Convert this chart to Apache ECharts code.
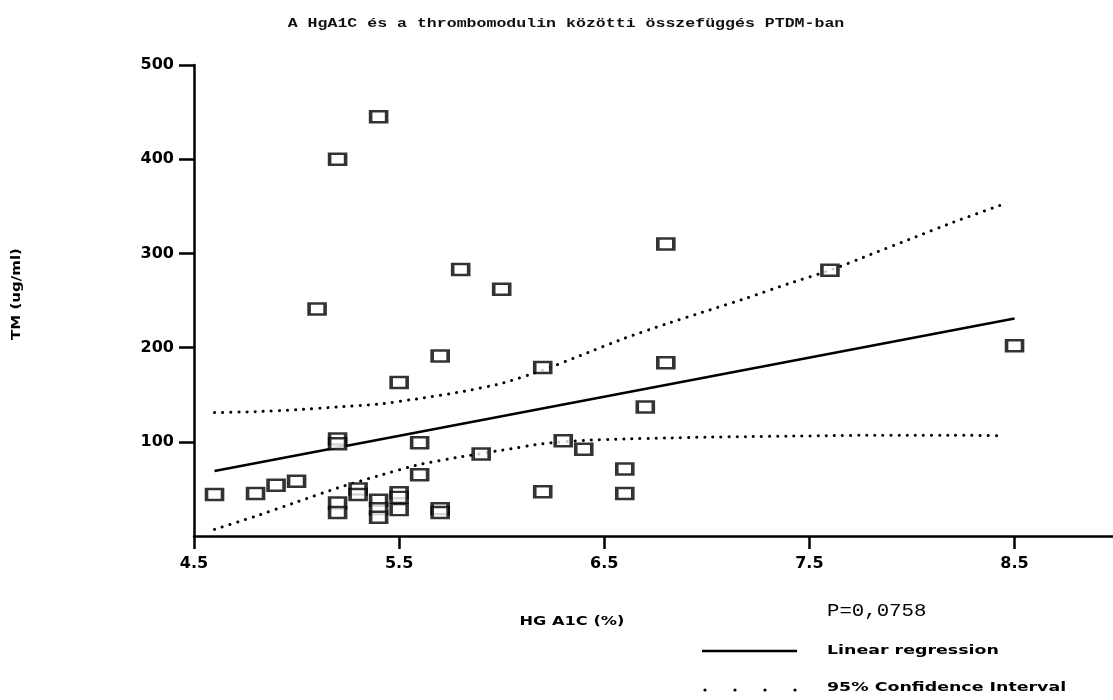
<!DOCTYPE html>
<html>
<head>
<meta charset="utf-8">
<script src="https://cdn.jsdelivr.net/npm/echarts@6/dist/echarts.min.js"></script>
<style>
html,body{margin:0;padding:0;background:#fff;}
#chart{width:1113px;height:700px;}
</style>
</head>
<body>
<div id="chart"></div>
<script>
// ---- data ----
const hba1c = [4.6,4.8,4.9,5.0,5.1,5.2,5.2,5.2,5.2,5.2,5.3,5.3,5.4,5.4,5.4,5.4,5.5,5.5,5.5,5.5,5.6,5.6,5.7,5.7,5.7,5.8,5.9,6.0,6.2,6.2,6.3,6.4,6.6,6.6,6.7,6.8,6.8,7.6,8.5];
const tmValues = [44,45,54,58,241,400,103,98,35,25,50,44,445,38,29,20,163,46,41,28,99,65,191,29,25,283,87,262,179,47,101,92,71,45,137,310,184,282,202];

const regX = [4.6, 8.5];
const regY = [69, 231];

const ciX     = [4.6,4.8,5.0,5.2,5.4,5.6,5.8,6.0,6.2,6.4,6.6,6.8,7.0,7.2,7.4,7.6,7.8,8.0,8.2,8.43];
const ciUpper = [131,132,134,137,140,146,153,162,176,193,210,225,239,253,268,282,299,316,333,351];
const ciLower = [7,21,36,51,64,76,84,91,98,101.5,103,104,105,105.5,106,106.5,107,107,107,106.5];

const xTicks = [4.5,5.5,6.5,7.5,8.5];
const yTicks = [100,200,300,400,500];

const titleText = 'A HgA1C és a thrombomodulin közötti összefüggés PTDM-ban';
const xName = 'HG A1C (%)';
const yName = 'TM (ug/ml)';
const pText = 'P=0,0758';
const legendReg = 'Linear regression';
const legendCI = '95% Confidence Interval';

// ---- build ----
const zip = (a, b) => a.map((v, i) => [v, b[i]]);
const ink = '#000';
const dotted = { color: ink, width: 3, type: [0.1, 8], cap: 'round' };
const labelFont = { fontFamily: 'DejaVu Sans', fontWeight: 'bold', fontSize: 16, color: ink };

const chart = echarts.init(document.getElementById('chart'), null, { renderer: 'canvas' });
chart.setOption({
  backgroundColor: '#ffffff',
  animation: false,
  grid: { left: 194, right: 0, top: 65, bottom: 164 },
  xAxis: {
    type: 'value', min: 4.5, max: 8.98,
    axisLine: { lineStyle: { color: ink, width: 2.5 } },
    axisTick: { show: true, length: 13, lineStyle: { color: ink, width: 2.5 }, customValues: xTicks },
    axisLabel: Object.assign({ margin: 20, customValues: xTicks, formatter: v => v.toFixed(1) }, labelFont),
    splitLine: { show: false }
  },
  yAxis: {
    type: 'value', min: 0, max: 500, interval: 100,
    axisLine: { show: true, lineStyle: { color: ink, width: 2.5 } },
    axisTick: { show: true, length: 15, lineStyle: { color: ink, width: 2.5 }, customValues: yTicks },
    axisLabel: Object.assign({ margin: 20, customValues: yTicks }, labelFont),
    splitLine: { show: false }
  },
  series: [
    { type: 'line', data: zip(ciX, ciUpper), showSymbol: false, smooth: 0.2, lineStyle: dotted, z: 2 },
    { type: 'line', data: zip(ciX, ciLower), showSymbol: false, smooth: 0.2, lineStyle: dotted, z: 2 },
    { type: 'line', data: zip(regX, regY), showSymbol: false, lineStyle: { color: ink, width: 2.5 }, z: 3 },
    { type: 'scatter', data: zip(hba1c, tmValues), symbol: 'rect', symbolSize: [16, 11],
      itemStyle: { color: '#ffffff', borderColor: ink, borderWidth: 3 }, z: 4 }
  ],
  graphic: [
    { type: 'text', x: 566, y: 24, scaleX: 1.38, style: { text: titleText, font: 'bold 12px "Liberation Mono"', fill: '#111', align: 'center', verticalAlign: 'middle' } },
    { type: 'text', x: 572, y: 622, scaleX: 1.35, style: { text: xName, font: 'bold 12px "DejaVu Sans"', fill: ink, align: 'center', verticalAlign: 'middle' } },
    { type: 'text', x: 17, y: 294, rotation: Math.PI / 2, scaleX: 1.25, style: { text: yName, font: 'bold 12px "DejaVu Sans"', fill: ink, align: 'center', verticalAlign: 'middle' } },
    { type: 'text', x: 827, y: 611, scaleX: 1.15, style: { text: pText, font: '18px "Liberation Mono"', fill: ink, align: 'left', verticalAlign: 'middle' } },
    { type: 'line', shape: { x1: 702, y1: 651, x2: 797, y2: 651 }, style: { stroke: ink, lineWidth: 2.5 } },
    { type: 'text', x: 827, y: 651, scaleX: 1.45, style: { text: legendReg, font: 'bold 12px "DejaVu Sans"', fill: ink, align: 'left', verticalAlign: 'middle' } },
    { type: 'circle', shape: { cx: 705, cy: 690, r: 1.6 }, style: { fill: ink } },
    { type: 'circle', shape: { cx: 735, cy: 690, r: 1.6 }, style: { fill: ink } },
    { type: 'circle', shape: { cx: 765, cy: 690, r: 1.6 }, style: { fill: ink } },
    { type: 'circle', shape: { cx: 795, cy: 690, r: 1.6 }, style: { fill: ink } },
    { type: 'text', x: 827, y: 688, scaleX: 1.45, style: { text: legendCI, font: 'bold 12px "DejaVu Sans"', fill: ink, align: 'left', verticalAlign: 'middle' } }
  ]
});
</script>
</body>
</html>
